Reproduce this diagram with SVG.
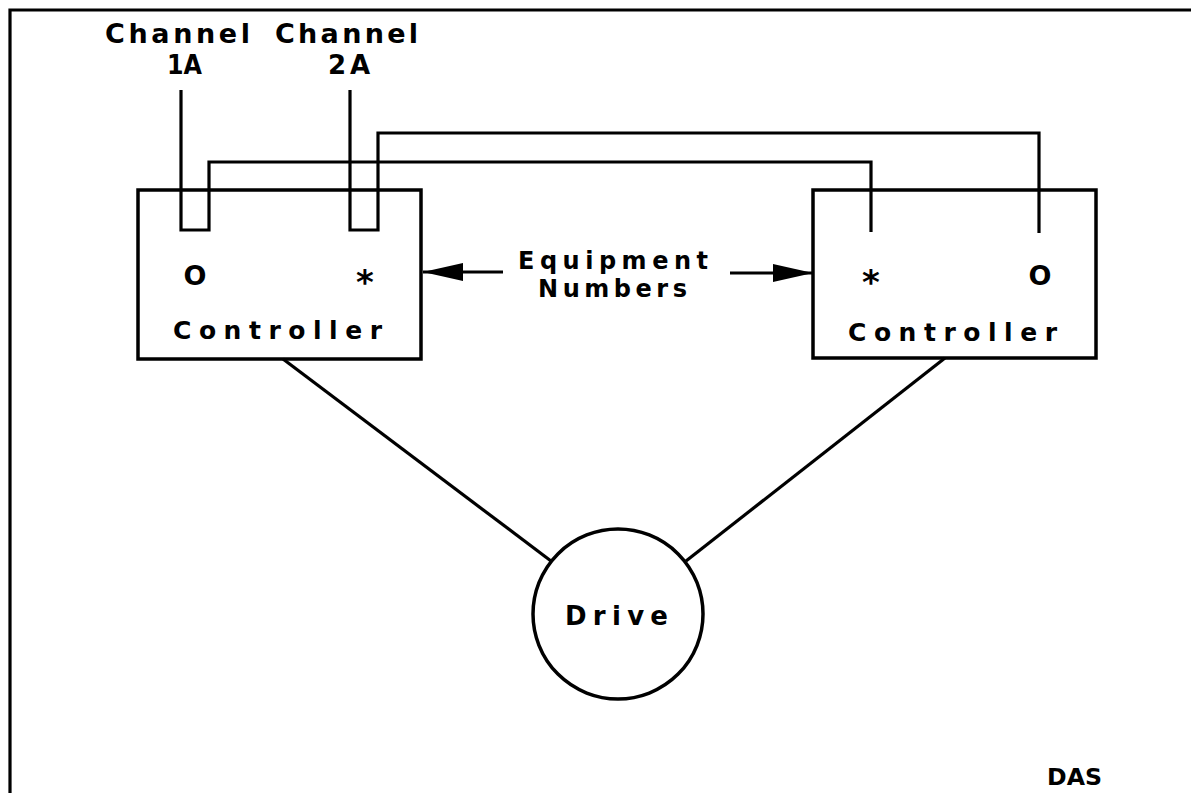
<svg xmlns="http://www.w3.org/2000/svg" width="1191" height="793" viewBox="0 0 1191 793">
<style>
.ln{fill:none;stroke:#000;stroke-width:3.2;stroke-linejoin:miter;stroke-linecap:butt}
.box{fill:#fff;stroke:#000;stroke-width:3.5}
.t{font-family:"DejaVu Sans","Liberation Sans",Arial,sans-serif;font-weight:bold;fill:#000}
</style>
<defs>
<marker id="ah" viewBox="0 0 40 20" refX="40" refY="10" markerWidth="40" markerHeight="20" markerUnits="userSpaceOnUse" orient="auto">
<path d="M0,1 L40,10 L0,19 Z" fill="#000"/>
</marker>
</defs>
<rect width="1191" height="793" fill="#fff"/>
<polyline class="ln" points="10,793 10,10 1191,10"/>

<g id="controller-left">
<rect class="box" x="138" y="190" width="283" height="169"/>
<text class="t" x="195" y="285" font-size="27" text-anchor="middle">O</text>
<text class="t" x="365" y="294" font-size="34" text-anchor="middle">*</text>
<text class="t" x="173" y="339" font-size="25" textLength="209" lengthAdjust="spacing">Controller</text>
</g>

<g id="controller-right">
<rect class="box" x="813" y="190" width="283" height="168"/>
<text class="t" x="871" y="294" font-size="34" text-anchor="middle">*</text>
<text class="t" x="1040" y="285" font-size="27" text-anchor="middle">O</text>
<text class="t" x="848" y="341" font-size="25" textLength="209" lengthAdjust="spacing">Controller</text>
</g>

<g id="drive">
<circle cx="618" cy="614" r="85" fill="#fff" stroke="#000" stroke-width="3.5"/>
<text class="t" x="565" y="625" font-size="26" textLength="103" lengthAdjust="spacing">Drive</text>
</g>

<g id="labels">
<text class="t" x="105" y="43" font-size="27" textLength="145" lengthAdjust="spacing">Channel</text>
<text class="t" x="275" y="43" font-size="27" textLength="143" lengthAdjust="spacing">Channel</text>
<text class="t" x="167" y="74" font-size="26" textLength="35" lengthAdjust="spacingAndGlyphs">1A</text>
<text class="t" x="328" y="74" font-size="26" textLength="42" lengthAdjust="spacing">2A</text>
<text class="t" x="518" y="269" font-size="24" textLength="190" lengthAdjust="spacing">Equipment</text>
<text class="t" x="538" y="297" font-size="24" textLength="149" lengthAdjust="spacing">Numbers</text>
<text class="t" x="1047" y="785" font-size="23" textLength="55" lengthAdjust="spacingAndGlyphs">DAS</text>
</g>

<g id="connectors">
<polyline class="ln" points="181,90 181,230 209,230 209,162 871,162 871,232"/>
<polyline class="ln" points="350,90 350,230 378,230 378,133 1039,133 1039,233"/>
<line class="ln" x1="283" y1="359" x2="551" y2="561"/>
<line class="ln" x1="945" y1="358" x2="686" y2="561"/>
<line class="ln" x1="503" y1="272" x2="423" y2="272" marker-end="url(#ah)"/>
<line class="ln" x1="730" y1="273" x2="813" y2="273" marker-end="url(#ah)"/>
</g>
</svg>
